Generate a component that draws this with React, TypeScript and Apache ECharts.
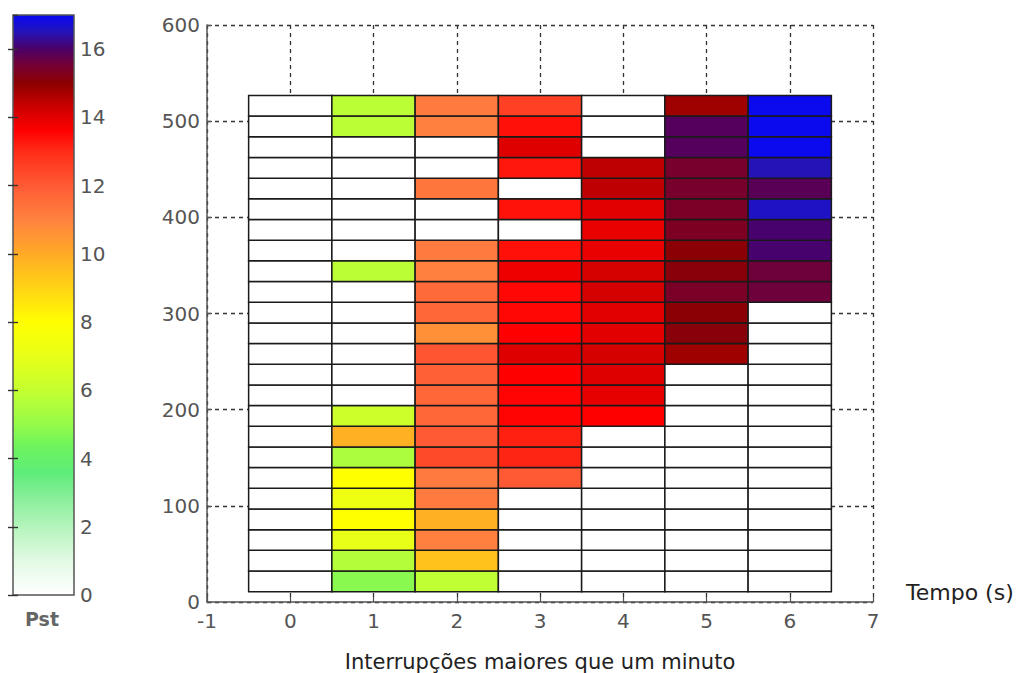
import React, { useEffect, useRef } from "react";
import * as echarts from "echarts";

// Column positions (Tempo, s)
const COLUMNS = [0, 1, 2, 3, 4, 5, 6];
// Row centres on the y axis, bottom to top
const ROW_CENTERS = [21.5, 43, 64.5, 86, 107.5, 129, 150.5, 172, 193.5, 215, 236.5, 258, 279.5, 301, 322.5, 344, 365.5, 387, 408.5, 430, 451.5, 473, 494.5, 516];
const ROW_HALF = 10.75;

// Pst values per column, bottom row first
const PST_COL0 = [0, 0, 0, 0, 0, 0, 0, 0, 0, 0, 0, 0, 0, 0, 0, 0, 0, 0, 0, 0, 0, 0, 0, 0];
const PST_COL1 = [4.8, 5.65, 7.0, 8.0, 7.25, 8.0, 5.45, 9.85, 6.25, 0, 0, 0, 0, 0, 0, 5.8, 0, 0, 0, 0, 0, 0, 5.8, 5.8];
const PST_COL2 = [5.9, 9.45, 11.05, 9.85, 11.2, 11.2, 12.35, 12.0, 11.7, 11.7, 11.85, 12.1, 10.65, 11.7, 11.6, 11.05, 11.2, 0, 0, 11.3, 0, 0, 11.05, 11.2];
const PST_COL3 = [0, 0, 0, 0, 0, 12.0, 13.1, 13.16, 13.55, 13.55, 13.6, 14.05, 13.6, 13.5, 13.5, 13.83, 13.38, 0, 13.35, 0, 13.3, 14.05, 13.38, 12.57];
const PST_COL4 = [0, 0, 0, 0, 0, 0, 0, 0, 13.6, 13.93, 14.05, 14.17, 14.0, 14.0, 14.17, 14.17, 13.9, 13.9, 14.0, 14.45, 14.45, 0, 0, 0];
const PST_COL5 = [0, 0, 0, 0, 0, 0, 0, 0, 0, 0, 0, 14.8, 15.1, 15.05, 15.4, 15.1, 15.05, 15.35, 15.4, 15.45, 15.45, 15.9, 15.9, 14.8];
const PST_COL6 = [0, 0, 0, 0, 0, 0, 0, 0, 0, 0, 0, 0, 0, 0, 15.6, 15.6, 16.05, 16.05, 16.6, 15.85, 16.5, 16.95, 16.95, 16.95];
const PST_COLUMNS = [PST_COL0, PST_COL1, PST_COL2, PST_COL3, PST_COL4, PST_COL5, PST_COL6];

// Colormap (value -> colour)
const CMAP_VALUES = [0, 1, 2, 3, 3.6, 4.4, 5, 6, 7, 8, 9, 10, 11, 12, 13, 13.6, 14.4, 15, 15.5, 16, 16.5, 17];
const CMAP_COLORS = ["#ffffff", "#e2fae4", "#b4f4bc", "#80ee94", "#5ded78", "#70f45c", "#96fb4a", "#c4ff30", "#e8ff18", "#ffff00", "#ffd414", "#ffaa26", "#ff8240", "#ff5a34", "#ff2c18", "#ff0000", "#c40000", "#8c0000", "#760032", "#4c0066", "#2414b8", "#0808f4"];
const PST_MAX = 17;

const X_TICKS_MIN = -1;
const X_TICKS_MAX = 7;
const Y_MAX = 600;

function hexToRgb(h: string) {
  const n = parseInt(h.slice(1), 16);
  return [(n >> 16) & 255, (n >> 8) & 255, n & 255];
}

function colormap(v: number) {
  if (v <= CMAP_VALUES[0]) return CMAP_COLORS[0];
  const last = CMAP_VALUES.length - 1;
  if (v >= CMAP_VALUES[last]) return CMAP_COLORS[last];
  for (let i = 0; i < last; i++) {
    const a = CMAP_VALUES[i];
    const b = CMAP_VALUES[i + 1];
    if (v >= a && v <= b) {
      const t = (v - a) / (b - a);
      const ca = hexToRgb(CMAP_COLORS[i]);
      const cb = hexToRgb(CMAP_COLORS[i + 1]);
      const c = ca.map((x, k) => Math.round(x + (cb[k] - x) * t));
      return `rgb(${c[0]},${c[1]},${c[2]})`;
    }
  }
  return CMAP_COLORS[last];
}

const FONT = "DejaVu Sans";

export default function App() {
  const ref = useRef<HTMLDivElement>(null);

  useEffect(() => {
    document.body.style.margin = "0";
    if (!ref.current) return;
    const chart = echarts.init(ref.current, null, { renderer: "svg" });

    const cellData: number[][] = [];
    COLUMNS.forEach((c, ci) => {
      ROW_CENTERS.forEach((y, ri) => {
        cellData.push([c, y, PST_COLUMNS[ci][ri]]);
      });
    });

    const gradStops = CMAP_VALUES.map((v, i) => ({
      offset: 1 - v / PST_MAX,
      color: CMAP_COLORS[i],
    })).sort((a, b) => a.offset - b.offset);

    const tickLabel = { color: "#555", fontSize: 20, fontFamily: FONT };

    chart.setOption({
      animation: false,
      backgroundColor: "#ffffff",
      grid: [
        { left: 207, top: 25, width: 666, height: 577, outerBoundsMode: "none", containLabel: false },
        { left: 13, top: 15, width: 61, height: 580, outerBoundsMode: "none", containLabel: false },
      ],
      xAxis: [
        {
          gridIndex: 0,
          type: "value",
          min: X_TICKS_MIN,
          max: X_TICKS_MAX,
          interval: 1,
          axisLine: { show: true, onZero: false, lineStyle: { color: "#555", width: 1.5 } },
          axisTick: { show: true, inside: true, length: 5, lineStyle: { color: "#555", width: 1.2 } },
          axisLabel: { ...tickLabel, margin: 9 },
          splitLine: { show: true, lineStyle: { color: "#333", type: [4, 4], width: 1.3 } },
          name: "Interrupções maiores que um minuto",
          nameLocation: "middle",
          nameGap: 49,
          nameTextStyle: { color: "#222", fontSize: 21, fontFamily: FONT },
        },
        {
          gridIndex: 1,
          type: "value",
          min: 0,
          max: 1,
          show: false,
        },
      ],
      yAxis: [
        {
          gridIndex: 0,
          type: "value",
          min: 0,
          max: Y_MAX,
          interval: 100,
          axisLine: { show: true, onZero: false, lineStyle: { color: "#555", width: 1.5 } },
          axisTick: { show: true, inside: true, length: 5, lineStyle: { color: "#555", width: 1.2 } },
          axisLabel: { ...tickLabel, margin: 7 },
          splitLine: { show: true, lineStyle: { color: "#333", type: [4, 4], width: 1.3 } },
        },
        {
          gridIndex: 1,
          type: "value",
          position: "right",
          min: 0,
          max: PST_MAX,
          interval: 2,
          z: 5,
          axisLine: { show: false },
          axisTick: { show: true, inside: true, length: 5, lineStyle: { color: "#333", width: 1.4 } },
          axisLabel: { ...tickLabel, margin: 6, showMaxLabel: false },
          splitLine: { show: false },
        },
        {
          gridIndex: 1,
          type: "value",
          position: "left",
          min: 0,
          max: PST_MAX,
          interval: 2,
          z: 5,
          axisLine: { show: false },
          axisTick: { show: true, inside: true, length: 5, lineStyle: { color: "#333", width: 1.4 } },
          axisLabel: { show: false },
          splitLine: { show: false },
        },
      ],
      graphic: [
        {
          type: "text",
          left: 906,
          top: 581,
          style: { text: "Tempo (s)", fill: "#222", fontSize: 22, fontFamily: FONT },
        },
        {
          type: "text",
          left: 25,
          top: 609,
          style: { text: "Pst", fill: "#666", fontSize: 19, fontWeight: "bold", fontFamily: FONT },
        },
      ],
      series: [
        {
          type: "custom",
          xAxisIndex: 0,
          yAxisIndex: 0,
          z: 3,
          data: cellData,
          renderItem: (params: any, api: any) => {
            const x = api.value(0);
            const y = api.value(1);
            const v = api.value(2);
            const p1 = api.coord([x - 0.5, y + ROW_HALF]);
            const p2 = api.coord([x + 0.5, y - ROW_HALF]);
            return {
              type: "rect",
              shape: { x: p1[0], y: p1[1], width: p2[0] - p1[0], height: p2[1] - p1[1] },
              style: { fill: colormap(v), stroke: "#1a1a1a", lineWidth: 1.5 },
            };
          },
        },
        {
          type: "custom",
          xAxisIndex: 1,
          yAxisIndex: 1,
          z: 2,
          data: [[0, 0]],
          renderItem: (params: any, api: any) => {
            const p1 = api.coord([0, PST_MAX]);
            const p2 = api.coord([1, 0]);
            return {
              type: "rect",
              shape: { x: p1[0], y: p1[1], width: p2[0] - p1[0], height: p2[1] - p1[1] },
              style: {
                fill: new echarts.graphic.LinearGradient(0, 0, 0, 1, gradStops),
                stroke: "#555",
                lineWidth: 1.5,
              },
            };
          },
        },
      ],
    });

    return () => chart.dispose();
  }, []);

  return (
    <div
      ref={ref}
      style={{ position: "absolute", left: 0, top: 0, width: 1022, height: 673 }}
    />
  );
}
